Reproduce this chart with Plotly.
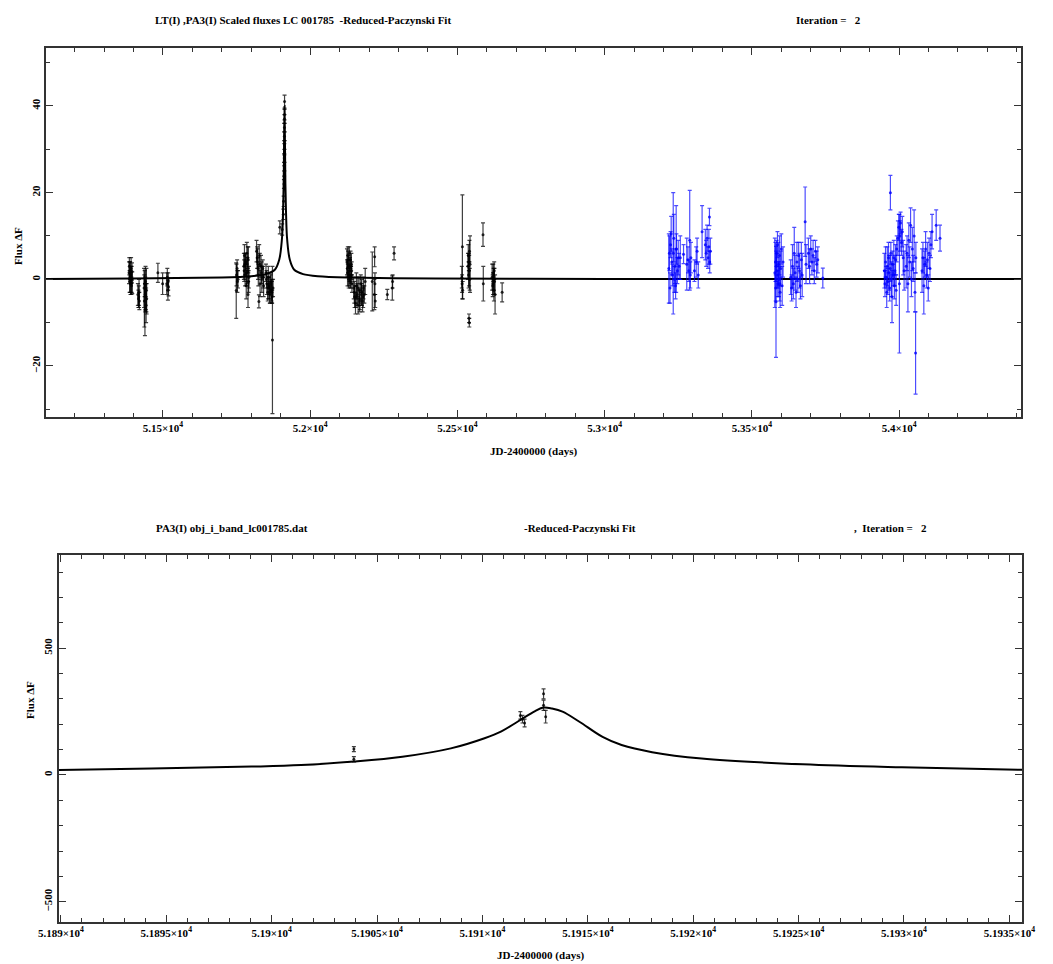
import plotly.graph_objects as go

# ---------------- data: top panel (scaled fluxes) ----------------
black_t = [51385, 51386, 51387, 51388, 51389, 51390, 51391, 51392, 51393, 51394, 51395, 51396,
           51415, 51417, 51419, 51420, 51418,
           51436, 51437, 51438, 51439, 51440, 51441, 51442, 51443, 51444, 51445,
           51483, 51499, 51513, 51515, 51517, 51518, 51519,
           51749, 51750, 51752, 51753, 51755,
           51775, 51777, 51779, 51781, 51783, 51785, 51787, 51789, 51790, 51792,
           51776, 51780, 51784, 51788, 51791,
           51818, 51821, 51824, 51827, 51830, 51833, 51836, 51839, 51842, 51826,
           51820, 51823, 51829, 51835, 51841,
           51850, 51853, 51856, 51858, 51861, 51864, 51866, 51869, 51871, 51874, 51872,
           51852, 51857, 51860, 51863, 51867, 51870,
           51897, 51905, 51909, 51910, 51911, 51911.5, 51912, 51912.3, 51912.4, 51912.6,
           51912.7, 51912.8, 51912.9, 51913, 51913.1,
           52125, 52127, 52128, 52130, 52131, 52133, 52134, 52136, 52137, 52139, 52140, 52142,
           52126, 52129, 52132, 52135, 52138, 52141,
           52148, 52151, 52154, 52157, 52160, 52163, 52166, 52169, 52172, 52175, 52178, 52181, 52184, 52187,
           52150, 52156, 52162, 52168, 52174, 52180,
           52211, 52219, 52218, 52220, 52221, 52262, 52279, 52280, 52285,
           52517, 52516, 52518, 52515,
           52536, 52537, 52538, 52539, 52540, 52541, 52542, 52539.5, 52540.5, 52543,
           52587, 52588,
           52618, 52620, 52622, 52624, 52626, 52628, 52625, 52621, 52623, 52652]
black_y = [1.5, 3.0, -0.5, 2.0, 0.5, -1.0, 1.0, 2.5, -1.5, 0.0, 1.8, -0.8,
           -3.5, -4.5, -3.0, -5.0, -4.0,
           -2.0, -5.0, -1.0, -7.0, -3.5, -0.5, -4.0, -6.0, -2.5, -4.5,
           1.5, -1.0, -1.0, 0.5, -2.5, -0.5, -1.8,
           -2.6, 1.0, 2.5, -0.5, 0.0,
           3.0, 5.5, 1.0, 4.0, -1.5, 6.0, 2.0, -3.5, 4.5, 0.5,
           2.0, 3.5, 1.5, 5.0, -0.5,
           6.5, 4.0, 1.0, 5.5, -1.0, 3.0, 0.0, 2.5, -1.5, -5.1,
           5.0, 2.5, 3.5, 1.5, 0.5,
           1.5, -1.0, -3.0, 0.5, -2.0, -3.5, -1.0, -2.5, -4.0, -2.0, -14.0,
           0.0, -2.0, -1.5, -3.0, -0.5, -3.0,
           12.0, 11.5, 15.0, 18.0, 22.0, 25.0, 28.0, 30.0, 26.0, 33.0,
           37.0, 35.0, 31.0, 38.0, 41.0,
           4.0, 1.5, 5.5, 3.0, 0.0, 6.0, 2.0, -0.5, 4.5, 1.0, 3.5, -1.0,
           2.5, 4.5, 1.0, 3.0, 0.5, 2.0,
           -2.0, -4.0, -5.5, -1.5, -3.5, -6.0, -2.5, -4.5, -1.0, -3.0, -5.0, -2.0, -3.5, -0.5,
           -3.0, -4.0, -2.0, -5.0, -3.5, -4.0,
           -0.5, 5.2, -3.5, -1.0, -5.0, -3.5, -2.0, -0.5, 6.0,
           7.5, -1.0, -2.5, 0.5,
           3.0, 5.5, 1.0, 4.0, 2.0, 6.5, 0.0, -9.0, -10.0, 3.5,
           10.3, -1.0,
           0.5, -1.5, 1.5, -2.5, -0.5, -3.5, 2.0, -1.0, 0.0, -3.0]
black_e = [2.5, 2.0, 2.5, 2.0, 3.5, 2.5, 2.0, 2.5, 2.0, 3.0, 2.0, 2.5,
           2.5, 2.0, 3.0, 2.0, 2.5,
           4.5, 6.0, 3.0, 6.0, 4.0, 3.5, 3.0, 4.0, 5.0, 3.5,
           2.2, 2.5, 2.5, 2.0, 2.3, 2.0, 2.0,
           6.4, 2.5, 2.0, 2.5, 2.0,
           3.0, 2.5, 2.5, 2.0, 3.0, 2.5, 3.0, 3.0, 3.0, 2.5,
           2.5, 2.5, 3.0, 2.5, 2.5,
           2.5, 3.0, 2.5, 2.5, 3.0, 2.5, 3.0, 2.0, 2.5, 1.5,
           2.5, 2.5, 2.5, 2.5, 2.5,
           2.0, 2.5, 2.0, 2.5, 2.5, 2.0, 2.0, 2.5, 1.5, 2.0, 17.0,
           2.0, 2.5, 2.0, 2.5, 2.0, 2.5,
           1.5, 1.3, 1.2, 1.2, 1.0, 1.2, 1.0, 1.3, 1.0, 1.0,
           1.0, 1.0, 1.0, 1.2, 1.5,
           3.0, 3.0, 2.0, 2.5, 2.0, 1.5, 2.5, 1.5, 2.0, 2.0, 2.5, 2.0,
           2.0, 2.0, 2.5, 2.0, 2.5, 2.0,
           2.5, 2.5, 2.5, 3.0, 2.5, 2.0, 3.0, 2.5, 2.0, 3.0, 2.5, 2.5, 2.0, 3.0,
           2.5, 2.5, 2.5, 2.5, 2.5, 2.5,
           6.8, 2.3, 3.5, 2.5, 1.5, 1.2, 2.8, 1.5, 1.5,
           12.0, 2.0, 2.0, 2.5,
           3.0, 2.5, 3.0, 2.0, 3.5, 2.5, 2.5, 1.0, 1.0, 6.5,
           2.7, 4.0,
           3.0, 2.5, 2.0, 2.5, 3.0, 4.5, 2.0, 2.5, 2.5, 2.2]

blue_t = [53218, 53220, 53222, 53224, 53228, 53230, 53233, 53235, 53237, 53239, 53241, 53243, 53244,
          53247, 53250, 53257, 53226, 53253,
          53268, 53279, 53283, 53286, 53289, 53291, 53293,
          53305, 53311, 53314, 53318, 53331, 53342, 53345, 53348, 53351, 53354, 53356, 53357, 53359,
          53578, 53580, 53581, 53582, 53584, 53585, 53587, 53588, 53590, 53592, 53594, 53596, 53598,
          53600, 53603, 53606, 53583, 53589, 53595,
          53632, 53635, 53638, 53641, 53644, 53647, 53650, 53653, 53656, 53659, 53662, 53665, 53668,
          53671, 53681, 53684, 53692, 53696, 53700, 53704, 53708, 53712, 53716, 53720, 53724, 53741,
          53950, 53952, 53954, 53956, 53958, 53960, 53962, 53964, 53966, 53968, 53970, 53972, 53974,
          53976, 53978, 53980, 53982, 53984, 53986, 53988, 53990, 53992, 53970.5,
          53996, 53999, 54001, 54003, 54005, 54008, 54011, 54014, 54017,
          54024, 54027, 54030, 54033, 54036, 54039, 54042, 54045, 54048, 54051, 54054, 54057, 54056,
          54078, 54081, 54084, 54087, 54090, 54093, 54096, 54099, 54102, 54105, 54108, 54112,
          54126, 54139]
blue_y = [2.5, 6.0, -2.0, 8.0, 4.0, 1.0, 6.0, 9.5, 0.0, 3.0, -1.5, 7.0, 7.0,
          2.0, 5.0, 5.0, 10.5, 3.0,
          5.8, 3.5, 4.5, 2.0, 9.0, 1.0, 5.0,
          2.0, 4.0, 6.5, 1.0, 11.0, 8.0, 6.0, 9.5, 5.0, 7.5, 14.4, 4.0, 6.5,
          1.5, 4.0, -2.0, -5.2, 6.0, 2.0, 8.0, -1.0, 3.5, 0.0, 5.5, -3.0, 2.5,
          7.0, -1.5, 4.0, 3.0, 1.0, -1.0,
          0.5, -2.0, 3.0, -1.0, 6.0, 1.5, -3.0, 4.0, 0.0, 5.5, 2.0, -1.5, 4.5,
          1.0, 13.3, 3.5, 6.0, 3.0, 7.0, 4.0, 5.5, 2.0, 6.5, 3.5, 4.5, 0.3,
          2.0, -1.0, 4.0, 0.5, -3.0, 3.0, -0.5, 5.0, 1.5, -2.0, 2.5, 6.0, 0.0,
          -4.0, 3.5, 1.0, 5.0, -1.5, 2.0, 4.5, -2.5, 7.0, 20.0,
          9.5, 12.0, -1.0, 10.0, 13.0, 8.5, 11.0, 5.0, 2.0,
          3.0, 6.0, -1.0, 9.0, 4.0, 12.5, 0.0, 7.0, 2.5, 10.0, -3.0, 5.0, -17.0,
          2.0, 5.0, -1.5, 3.5, 7.0, 1.0, 4.5, -2.0, 6.0, 2.5, 8.0, 11.0,
          12.5, 9.5]
blue_e = [8.0, 4.0, 3.5, 3.0, 3.0, 2.5, 14.0, 5.5, 3.0, 4.0, 3.0, 10.0, 3.5,
          3.0, 4.0, 5.0, 4.0, 3.0,
          2.2, 6.0, 3.0, 2.5, 11.5, 3.0, 3.5,
          2.5, 3.5, 3.0, 3.0, 6.0, 3.5, 3.0, 3.0, 2.5, 4.0, 2.0, 2.5, 3.0,
          8.0, 4.5, 3.0, 12.8, 3.0, 4.0, 3.0, 3.0, 5.0, 4.0, 4.5, 3.5, 4.0,
          3.5, 4.5, 3.5, 3.5, 3.0, 4.0,
          4.0, 3.0, 5.0, 3.5, 6.0, 4.0, 3.5, 4.5, 3.0, 3.0, 4.0, 3.0, 4.0,
          5.0, 8.0, 4.5, 3.5, 4.0, 3.0, 3.0, 3.5, 3.0, 2.5, 3.0, 3.0, 2.3,
          4.0, 3.0, 3.5, 2.5, 3.5, 4.5, 3.0, 3.5, 4.0, 3.0, 3.0, 2.5, 4.0,
          6.0, 3.0, 2.5, 4.0, 3.0, 3.5, 3.5, 3.5, 3.0, 4.0,
          4.0, 3.0, 16.0, 3.5, 2.5, 3.0, 3.5, 4.0, 4.5,
          5.0, 4.0, 6.5, 4.0, 3.5, 4.0, 4.0, 5.0, 3.0, 6.0, 4.5, 3.5, 9.5,
          5.0, 3.5, 6.5, 3.0, 4.0, 3.0, 4.0, 3.0, 3.5, 3.0, 3.0, 4.0,
          3.5, 3.0]

# fitted curve (top panel)
fit_top_t = [51100, 51400, 51700, 51800, 51850, 51880, 51895, 51905, 51910, 51913,
             51916, 51921, 51931, 51946, 51976, 52026, 52126, 52426, 53000, 54414]
fit_top_y = [0.1, 0.2, 0.4, 0.7, 1.2, 2.2, 4.5, 10.0, 22.0, 40.0,
             22.0, 10.0, 4.5, 2.2, 1.2, 0.7, 0.4, 0.2, 0.1, 0.05]

# ---------------- data: bottom panel (PA3 I band) ----------------
pa3_t = [51903.9, 51903.9, 51911.8, 51911.9, 51912.0, 51912.9, 51912.9, 51913.0]
pa3_y = [102, 62, 235, 220, 205, 320, 275, 230]
pa3_e = [10, 10, 15, 15, 15, 20, 20, 25]

fit_bot_t = [51889.9, 51894.3, 51899.05, 51901.4, 51903.9, 51906.2, 51908.5, 51910.1, 51910.9,
             51911.7, 51912.5, 51912.9, 51913.3, 51913.8, 51914.6, 51915.7, 51916.6, 51918.05,
             51920.4, 51925.2, 51929.9, 51935.7]
fit_bot_y = [20, 26, 33, 39, 53, 72, 105, 145, 172,
             212, 252, 266, 262, 250, 210, 150, 118, 90,
             65, 42, 30, 20]

# tick labels
top_tickvals = [51500, 52000, 52500, 53000, 53500, 54000]
top_ticktext = ["5.15×10<sup>4</sup>", "5.2×10<sup>4</sup>", "5.25×10<sup>4</sup>",
                "5.3×10<sup>4</sup>", "5.35×10<sup>4</sup>", "5.4×10<sup>4</sup>"]
bot_tickvals = [51890, 51895, 51900, 51905, 51910, 51915, 51920, 51925, 51930, 51935]
bot_ticktext = ["5.189×10<sup>4</sup>", "5.1895×10<sup>4</sup>", "5.19×10<sup>4</sup>",
                "5.1905×10<sup>4</sup>", "5.191×10<sup>4</sup>", "5.1915×10<sup>4</sup>",
                "5.192×10<sup>4</sup>", "5.1925×10<sup>4</sup>", "5.193×10<sup>4</sup>",
                "5.1935×10<sup>4</sup>"]

W, H = 1053, 964
FONT = dict(family="Liberation Serif", size=11, color="black", weight="bold")

fig = go.Figure()

# top panel
fig.add_trace(go.Scatter(x=fit_top_t, y=fit_top_y, mode="lines", line=dict(color="black", width=2, shape="spline", smoothing=0.6),
                         xaxis="x", yaxis="y", showlegend=False, hoverinfo="skip"))
fig.add_trace(go.Scatter(x=black_t, y=black_y, mode="markers",
                         marker=dict(color="rgba(0,0,0,0.8)", size=3),
                         error_y=dict(type="data", array=black_e, color="rgba(0,0,0,0.75)", thickness=1.2, width=2),
                         xaxis="x", yaxis="y", showlegend=False))
fig.add_trace(go.Scatter(x=blue_t, y=blue_y, mode="markers",
                         marker=dict(color="rgba(0,0,255,0.8)", size=3),
                         error_y=dict(type="data", array=blue_e, color="rgba(0,0,255,0.7)", thickness=1.2, width=2),
                         xaxis="x", yaxis="y", showlegend=False))

# bottom panel
fig.add_trace(go.Scatter(x=fit_bot_t, y=fit_bot_y, mode="lines", line=dict(color="black", width=2, shape="spline"),
                         xaxis="x2", yaxis="y2", showlegend=False, hoverinfo="skip"))
fig.add_trace(go.Scatter(x=pa3_t, y=pa3_y, mode="markers",
                         marker=dict(color="rgba(0,0,0,0.8)", size=3),
                         error_y=dict(type="data", array=pa3_e, color="rgba(0,0,0,0.75)", thickness=1.2, width=2),
                         xaxis="x2", yaxis="y2", showlegend=False))

axis_common = dict(showgrid=False, zeroline=False, showline=True, linecolor="#333", linewidth=2,
                   mirror="allticks", ticks="inside", tickcolor="#333", tickwidth=1, automargin=False,
                   tickfont=FONT)

fig.update_layout(
    width=W, height=H, margin=dict(l=0, r=0, t=0, b=0),
    paper_bgcolor="white", plot_bgcolor="white",
    xaxis=dict(domain=[46 / W, 1021 / W], range=[51103, 54414], anchor="y",
               tickvals=top_tickvals, ticktext=top_ticktext, ticklen=7,
               minor=dict(dtick=100, tick0=51500, ticklen=4, ticks="inside", tickcolor="#333", showgrid=False),
               **axis_common),
    yaxis=dict(domain=[1 - 416.7 / H, 1 - 48.3 / H], range=[-31.7, 53.3], anchor="x",
               tickvals=[-20, 0, 20, 40], tickangle=-90, ticklen=7,
               minor=dict(dtick=10, tick0=0, ticklen=4, ticks="inside", tickcolor="#333", showgrid=False),
               **axis_common),
    xaxis2=dict(domain=[58.8 / W, 1022 / W], range=[51889.9, 51935.6], anchor="y2",
                tickvals=bot_tickvals, ticktext=bot_ticktext, ticklen=7,
                minor=dict(dtick=1, tick0=51890, ticklen=4, ticks="inside", tickcolor="#333", showgrid=False),
                **axis_common),
    yaxis2=dict(domain=[1 - 921.7 / H, 1 - 555 / H], range=[-579, 868], anchor="x2",
                tickvals=[-500, 0, 500], tickangle=-90, ticklen=7,
                minor=dict(dtick=100, tick0=0, ticklen=4, ticks="inside", tickcolor="#333", showgrid=False),
                **axis_common),
)

def ann(text, x, y, angle=0):
    fig.add_annotation(text=text, x=x / W, y=1 - y / H, xref="paper", yref="paper",
                       showarrow=False, font=FONT, textangle=angle, xanchor="center", yanchor="middle")

ann("LT(I) ,PA3(I) Scaled fluxes LC 001785  -Reduced-Paczynski Fit", 303, 20)
ann("Iteration =   2", 828, 20)
ann("JD-2400000 (days)", 533, 451)
ann("Flux ΔF", 18, 246, -90)

ann("PA3(I) obj_i_band_lc001785.dat", 232, 528)
ann("-Reduced-Paczynski Fit", 580, 528)
ann(",  Iteration =   2", 890, 528)
ann("JD-2400000 (days)", 540, 955)
ann("Flux ΔF", 30, 700, -90)

fig.write_html("out.html")
